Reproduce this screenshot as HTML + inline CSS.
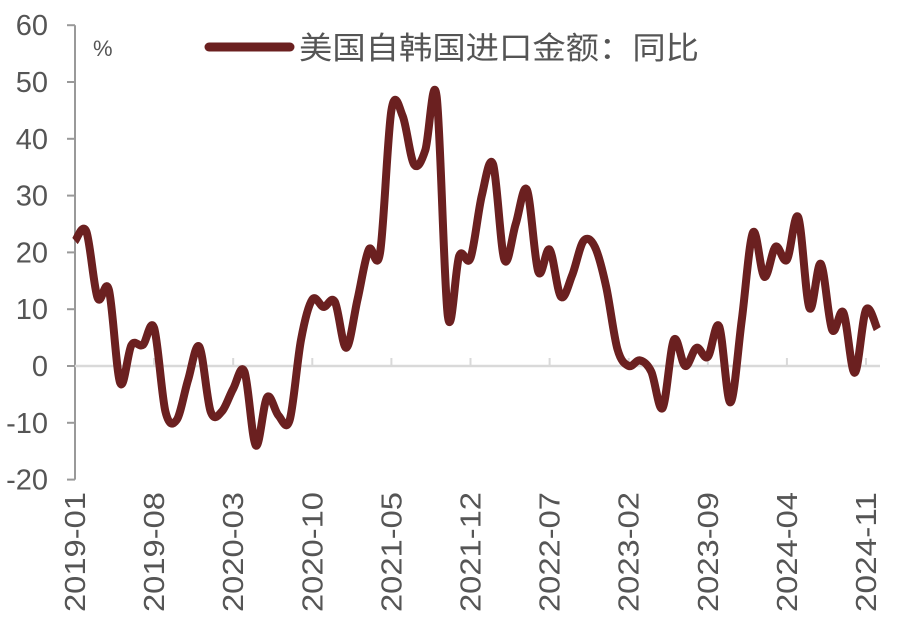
<!DOCTYPE html>
<html><head><meta charset="utf-8"><style>
html,body{margin:0;padding:0;background:#fff;}
svg{display:block;font-family:"Liberation Sans","Noto Sans CJK SC",sans-serif;}
</style></head><body>
<svg id="chart" width="898" height="625">
<g id="axes"></g><g id="series"></g>
<g>
<line x1="209" y1="47" x2="290" y2="47" stroke="#6b2020" stroke-width="9" stroke-linecap="round"/>
<text x="299" y="59" font-size="31" fill="#555" textLength="400" lengthAdjust="spacingAndGlyphs">美国自韩国进口金额：同比</text>
</g>
<text x="93" y="56" font-size="22" fill="#555">%</text>
</svg>
<script>
const yTicks=[60,50,40,30,20,10,0,-10,-20];
const xLabels=["2019-01","2019-08","2020-03","2020-10","2021-05","2021-12","2022-07","2023-02","2023-09","2024-04","2024-11"];
const xLabelIdx=[0,7,14,21,28,35,42,49,56,63,70];
const values=[22,23.7,12,13.4,-3,3.7,3.7,6.7,-8,-9.5,-2.5,3.4,-8,-8,-4,-1,-14,-5.5,-8.7,-9.5,4.6,11.7,10.4,11.3,3.2,11.7,20.5,20,45,44,35.5,38,47.5,8.7,19.4,19,30,35.5,18.7,25,31,16.6,20.5,12.2,16,22,21,14,3,0,1,-1,-7.4,4.6,0,3.2,1.6,7,-6.4,8,23.5,15.7,21,18.7,26.2,10.2,18,6.4,9.4,-1.2,9.9,6.5];
const ns="http://www.w3.org/2000/svg";
const X0=75,DX=11.3,Y0=366,SY=5.68;
function xs(i){return X0+i*DX;}
function ys(v){return Y0-v*SY;}
const ax=document.getElementById('axes');
function mk(t,a,p){const e=document.createElementNS(ns,t);for(const k in a)e.setAttribute(k,a[k]);(p||ax).appendChild(e);return e;}
let e=mk('line',{x1:X0,y1:ys(60),x2:X0,y2:ys(-20),stroke:'#999','stroke-width':2});


e=mk('line',{x1:X0,y1:Y0,x2:880,y2:Y0,stroke:'#d9d9d9','stroke-width':2.5});


yTicks.forEach(v=>{
 let t=mk('line',{x1:X0-8,y1:ys(v),x2:X0,y2:ys(v),stroke:'#999','stroke-width':2});
 
 
 let l=mk('text',{x:48,y:ys(v)+10,'text-anchor':'end','font-size':29,fill:'#555'});
 l.textContent=v;
 
 
});
xLabels.forEach((s,k)=>{
 const x=xs(xLabelIdx[k]);
 if(k>0){let t=mk('line',{x1:x,y1:Y0-8,x2:x,y2:Y0,stroke:'#d9d9d9','stroke-width':2});
 
 }
 let l=mk('text',{x:0,y:0,'text-anchor':'end','font-size':29,fill:'#555',textLength:120,lengthAdjust:'spacingAndGlyphs',transform:`translate(${x+10},492) rotate(-90)`});
 l.textContent=s;
 
 
});
const pts=values.map((v,i)=>[xs(i),ys(v)]);
let d=`M${pts[0][0]},${pts[0][1]}`;
for(let i=0;i<pts.length-1;i++){
 const p0=pts[Math.max(0,i-1)],p1=pts[i],p2=pts[i+1],p3=pts[Math.min(pts.length-1,i+2)];
 const c1=[p1[0]+(p2[0]-p0[0])/6,p1[1]+(p2[1]-p0[1])/6];
 const c2=[p2[0]-(p3[0]-p1[0])/6,p2[1]-(p3[1]-p1[1])/6];
 d+=` C${c1[0]},${c1[1]} ${c2[0]},${c2[1]} ${p2[0]},${p2[1]}`;
}
const path=mk('path',{d:d,fill:'none',stroke:'#6b2020','stroke-width':8,'stroke-linejoin':'round'},document.getElementById('series'));


</script>
</body></html>
